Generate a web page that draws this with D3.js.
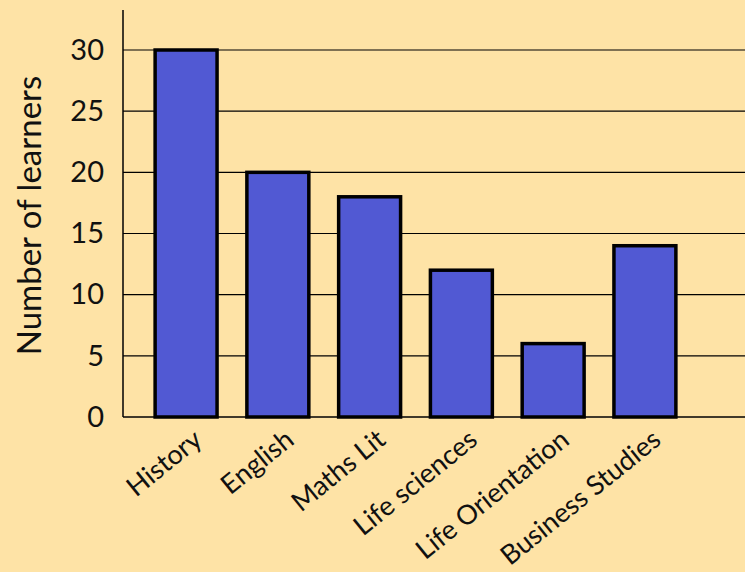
<!DOCTYPE html>
<html>
<head>
<meta charset="utf-8">
<script src="https://cdn.jsdelivr.net/npm/d3@7"></script>
<style>
  body { margin: 0; background: #fee3a6; }
  svg { display: block; font-family: Lato, "Noto Sans", sans-serif; }
</style>
</head>
<body>
<svg id="chart"></svg>
<script>
// Daten
const subjects = ["History", "English", "Maths Lit", "Life sciences", "Life Orientation", "Business Studies"];
const learners = [30, 20, 18, 12, 6, 14];
const yTicks = [0, 5, 10, 15, 20, 25, 30];

const W = 745, H = 572;
const x0 = 123, y0 = 417, yTop = 10;

const svg = d3.select("#chart").attr("width", W).attr("height", H);
svg.append("rect").attr("width", W).attr("height", H).attr("fill", "#fee3a6");

const x = d3.scaleBand()
  .domain(subjects)
  .range([x0, 708])
  .paddingInner(0.325)
  .paddingOuter(0.35);

const y = d3.scaleLinear()
  .domain([0, 30])
  .range([y0, 50]);

// Gitterlinien
svg.append("g")
  .selectAll("line")
  .data(yTicks.filter(d => d > 0))
  .join("line")
  .attr("x1", x0).attr("x2", W)
  .attr("y1", d => y(d)).attr("y2", d => y(d))
  .attr("stroke", "#000").attr("stroke-width", 1.2);

// Achse links
const yAxis = svg.append("g")
  .attr("transform", "translate(" + x0 + ",0)")
  .call(d3.axisLeft(y).tickValues(yTicks).tickSize(0).tickPadding(19));
yAxis.select(".domain").remove();
yAxis.selectAll("text")
  .attr("font-size", 29)
  .attr("font-family", "Lato, sans-serif")
  .attr("fill", "#111");

svg.append("line")
  .attr("x1", x0).attr("x2", x0).attr("y1", yTop).attr("y2", y0)
  .attr("stroke", "#000").attr("stroke-width", 1.5);

// Balken
svg.append("g")
  .selectAll("rect")
  .data(subjects)
  .join("rect")
  .attr("x", d => x(d))
  .attr("y", (d, i) => y(learners[i]))
  .attr("width", x.bandwidth())
  .attr("height", (d, i) => y(0) - y(learners[i]))
  .attr("fill", "#5159d3")
  .attr("stroke", "#000")
  .attr("stroke-width", 3.5);

// Achse unten
svg.append("line")
  .attr("x1", x0).attr("x2", W).attr("y1", y0).attr("y2", y0)
  .attr("stroke", "#000").attr("stroke-width", 1.5);

svg.append("g")
  .selectAll("text")
  .data(subjects)
  .join("text")
  .attr("transform", d => "translate(" + (x(d) + x.bandwidth() / 2 + 5) + "," + (y0 + 10) + ") rotate(-39)")
  .attr("text-anchor", "end")
  .attr("dy", "0.75em")
  .attr("font-size", 27)
  .attr("fill", "#111")
  .text(d => d);

// Achsentitel
svg.append("text")
  .attr("transform", "translate(41," + ((yTop + y0) / 2 + 2) + ") rotate(-90)")
  .attr("text-anchor", "middle")
  .attr("font-size", 33)
  .attr("fill", "#111")
  .text("Number of learners");
</script>
</body>
</html>
